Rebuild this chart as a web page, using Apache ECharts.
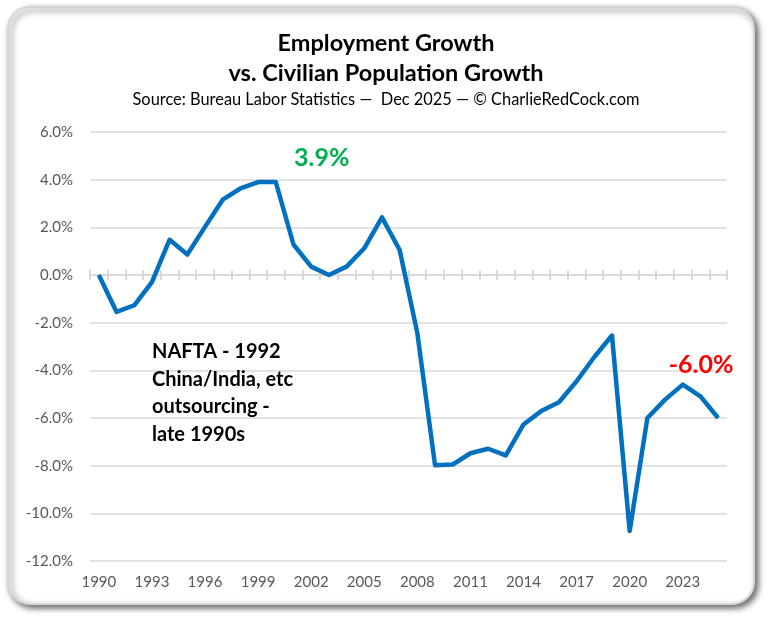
<!DOCTYPE html>
<html>
<head>
<meta charset="utf-8">
<script src="https://cdn.jsdelivr.net/npm/echarts@6.0.0/dist/echarts.min.js"></script>
<style>
  html, body { margin: 0; padding: 0; background: #fff; }
  #chart { width: 772px; height: 622px; }
</style>
</head>
<body>
<div id="chart"></div>
<script>
// years on the category axis
var years = [];
for (var y = 1990; y <= 2025; y++) years.push(String(y));

// employment growth minus civilian population growth, %
var gap = [0.0, -1.55, -1.27, -0.3, 1.48, 0.86, 2.02, 3.16, 3.63, 3.9,
           3.9, 1.28, 0.35, 0.0, 0.35, 1.12, 2.42, 1.05, -2.44, -7.98,
           -7.95, -7.48, -7.29, -7.57, -6.27, -5.71, -5.34, -4.46, -3.44, -2.54,
           -10.74, -6.0, -5.23, -4.6, -5.09, -6.0];

var yTicks = { min: -12, max: 6, step: 2 };
var note = ['NAFTA - 1992', 'China/India, etc', 'outsourcing -', 'late 1990s'];

var font = 'Lato, "Open Sans", sans-serif';
var peakIdx = 10;             // 2000, the high mark
var lastIdx = gap.length - 1; // latest reading

function pctLabel(color, offset) {
  return { show: true, position: 'top', offset: offset,
    color: color, fontSize: 25, fontWeight: 'bold', fontFamily: font,
    formatter: function (p) { return p.value.toFixed(1) + '%'; } };
}

var seriesData = gap.map(function (v, i) {
  if (i === peakIdx) return { value: v, label: pctLabel('#00b050', [46, -7]) };
  if (i === lastIdx) return { value: v, label: pctLabel('#ff0000', [-17, -36]) };
  return v;
});

var myChart = echarts.init(document.getElementById('chart'));

// zero line with tick marks, one axis for the upper half of the ticks, one for the lower
function zeroAxis(gridIndex, position) {
  return {
    type: 'category', data: years, boundaryGap: true, gridIndex: gridIndex, position: position,
    axisLine: { show: true, onZero: true, lineStyle: { color: '#d9d9d9', width: 2 } },
    axisTick: { show: true, interval: 0, inside: false, length: 5,
      lineStyle: { color: '#d9d9d9', width: 2 } },
    axisLabel: { show: false }, splitLine: { show: false }
  };
}

var gridBox = { left: 90, right: 45, top: 132, bottom: 61 };

var option = {
  backgroundColor: '#fff',
  animation: false,
  textStyle: { fontFamily: font },
  title: {
    text: 'Employment Growth\nvs. Civilian Population Growth',
    subtext: 'Source: Bureau Labor Statistics \u2014  Dec 2025 \u2014 \u00a9 CharlieRedCock.com',
    left: 'center', top: 23, itemGap: 2,
    textStyle: { fontSize: 23.5, fontWeight: 'bold', color: '#000', lineHeight: 30, fontFamily: font },
    subtextStyle: { fontSize: 16.4, color: '#000', lineHeight: 20, fontFamily: font }
  },
  graphic: [
    { type: 'rect', z: -10, silent: true,
      shape: { x: 8, y: 7, width: 746, height: 597, r: 22 },
      style: { fill: '#fff', stroke: '#d6d6d6', lineWidth: 2,
        shadowBlur: 6, shadowOffsetX: 3, shadowOffsetY: 3, shadowColor: 'rgba(0,0,0,0.6)' } },
    { type: 'text', left: 152, top: 338, z: 10,
      style: { text: note.join('\n'), fill: '#000', font: 'bold 20px ' + font, lineHeight: 27.5 } }
  ],
  grid: [
    Object.assign({}, gridBox),
    Object.assign({}, gridBox)
  ],
  xAxis: [
    {
      type: 'category', data: years, boundaryGap: true, gridIndex: 0, position: 'bottom',
      axisLine: { show: false, onZero: false }, axisTick: { show: false },
      axisLabel: { interval: 2, color: '#595959', fontSize: 15, margin: 14, fontFamily: font }
    },
    zeroAxis(0, 'top'),
    zeroAxis(1, 'bottom')
  ],
  yAxis: [
    {
      type: 'value', gridIndex: 0, min: yTicks.min, max: yTicks.max, interval: yTicks.step,
      axisLine: { show: false }, axisTick: { show: false },
      axisLabel: { color: '#595959', fontSize: 15, margin: 17, fontFamily: font,
        formatter: function (v) { return v.toFixed(1) + '%'; } },
      splitLine: { lineStyle: { color: '#d9d9d9', width: 1.5 } }
    },
    {
      type: 'value', gridIndex: 1, min: yTicks.min, max: yTicks.max, interval: yTicks.step,
      axisLine: { show: false }, axisTick: { show: false },
      axisLabel: { show: false }, splitLine: { show: false }
    }
  ],
  series: [{
    type: 'line', name: 'gap', data: seriesData, xAxisIndex: 0, yAxisIndex: 0,
    symbol: 'circle', symbolSize: 0, showSymbol: true, z: 5,
    lineStyle: { color: '#0070c0', width: 4.5, join: 'round' },
    itemStyle: { color: '#0070c0' }
  }]
};

myChart.setOption(option);
</script>
</body>
</html>
